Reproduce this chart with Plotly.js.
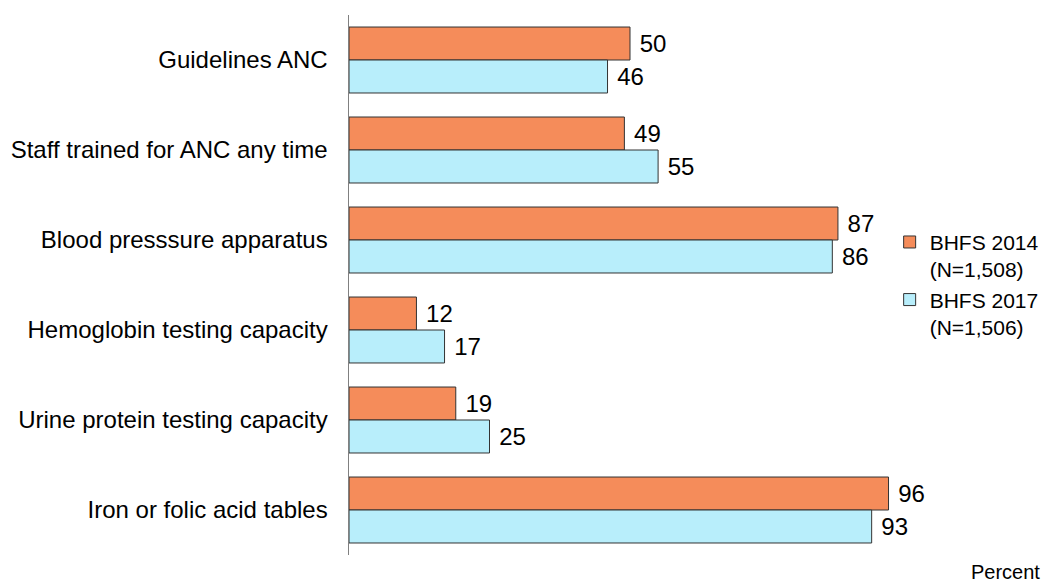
<!DOCTYPE html>
<html>
<head>
<meta charset="utf-8">
<script src="https://cdn.plot.ly/plotly-3.0.1.min.js"></script>
<style>html,body{margin:0;padding:0;background:#fff;}#chart{width:1054px;height:582px;}</style>
</head>
<body>
<div id="chart"></div>
<script>
const categories = [
  "Guidelines ANC",
  "Staff trained for ANC any time",
  "Blood presssure apparatus",
  "Hemoglobin testing capacity",
  "Urine protein testing capacity",
  "Iron or folic acid tables"
];
const values2014 = [50, 49, 87, 12, 19, 96];
const values2017 = [46, 55, 86, 17, 25, 93];
const seriesNames = ["BHFS 2014<br>(N=1,508)", "BHFS 2017<br>(N=1,506)"];

const fam = "Liberation Sans, Arial, sans-serif";
const font24 = {family: fam, size: 24, color: "#000"};
const font21 = {family: fam, size: 21, color: "#000"};
const font20 = {family: fam, size: 20, color: "#000"};

const traces = [
  {type: "bar", orientation: "h", y: categories, x: values2014, name: seriesNames[0],
   marker: {color: "#F58C5A", line: {color: "#333333", width: 1}},
   textposition: "outside", texttemplate: " %{x}",
   textfont: font24, cliponaxis: false},
  {type: "bar", orientation: "h", y: categories, x: values2017, name: seriesNames[1],
   marker: {color: "#B8EEFB", line: {color: "#333333", width: 1}},
   textposition: "outside", texttemplate: " %{x}",
   textfont: font24, cliponaxis: false}
];

const layout = {
  width: 1054, height: 582,
  margin: {l: 349, r: 142.5, t: 15, b: 27, autoexpand: false},
  paper_bgcolor: "#fff", plot_bgcolor: "#fff",
  font: font24,
  barmode: "group", bargap: 0.267, bargroupgap: 0,
  showlegend: true,
  legend: {x: 0.962, xanchor: "left", y: 0.617, yanchor: "top", font: font21,
           bgcolor: "rgba(0,0,0,0)", tracegroupgap: 4, itemwidth: 30, valign: "top"},
  xaxis: {range: [0, 100], showticklabels: false, showgrid: false, zeroline: false,
          showline: false, ticks: ""},
  yaxis: {autorange: "reversed", showgrid: false, zeroline: false, showline: true,
          linecolor: "#808080", linewidth: 1.5, ticks: "", ticklabelstandoff: 15,
          tickfont: font24},
  annotations: [{text: "Percent", xref: "paper", yref: "paper", x: 1.168, y: -0.032,
                 xanchor: "center", yanchor: "middle", showarrow: false, font: font20}]
};

Plotly.newPlot("chart", traces, layout, {displayModeBar: false, staticPlot: true});
</script>
</body>
</html>
